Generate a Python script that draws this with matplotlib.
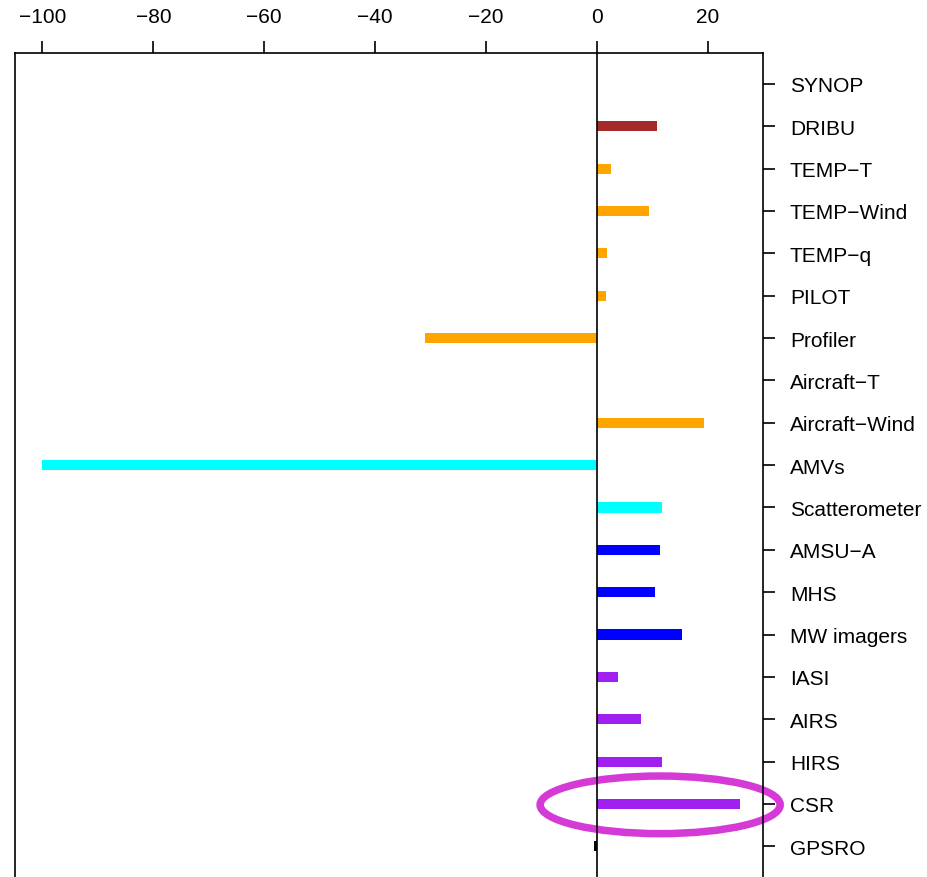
import numpy as np
import matplotlib
matplotlib.use("Agg")
import matplotlib.pyplot as plt
from matplotlib.patches import Ellipse

plt.rcParams["font.family"] = ["Liberation Sans", "DejaVu Sans"]

# ========================================================================
# Data
# ========================================================================
labels = [
    "SYNOP", "DRIBU", "TEMP\u2212T", "TEMP\u2212Wind", "TEMP\u2212q", "PILOT",
    "Profiler", "Aircraft\u2212T", "Aircraft\u2212Wind", "AMVs", "Scatterometer",
    "AMSU\u2212A", "MHS", "MW imagers", "IASI", "AIRS", "HIRS", "CSR", "GPSRO",
]
values = [
    0.0, 10.8, 2.5, 9.3, 1.9, 1.7,
    -31.0, 0.0, 19.3, -100.0, 11.7,
    11.4, 10.5, 15.3, 3.8, 7.9, 11.8, 25.8, -0.5,
]
colors = [
    "#A52A2A", "#A52A2A", "#FFA500", "#FFA500", "#FFA500", "#FFA500",
    "#FFA500", "#FFA500", "#FFA500", "#00FFFF", "#00FFFF",
    "#0000FF", "#0000FF", "#0000FF", "#A020F0", "#A020F0", "#A020F0", "#A020F0", "#000000",
]
xticks = [-100, -80, -60, -40, -20, 0, 20]
highlight = "CSR"

# ========================================================================
# Plot
# ========================================================================
fig = plt.figure(figsize=(9.27, 8.78), dpi=100)
ax = fig.add_axes([0.0159, 0.0, 0.8075, 0.9382])

ypos = np.arange(len(labels))
ax.barh(ypos, values, height=0.24, color=colors, linewidth=0)
ax.axvline(0, color="black", lw=1.2)

# ellipse around the highlighted bar
k = labels.index(highlight)
ax.add_patch(
    Ellipse((11.4, ypos[k] + 0.02), 43.3, 1.36, fill=False, ec="#D63AD6", lw=5.4, clip_on=False)
)

ax.set_xlim(-105, 30)
ax.set_ylim(len(labels) - 1 + 0.724, -0.724)

ax.xaxis.tick_top()
ax.set_xticks(xticks)
ax.set_xticklabels(["\u2212%d" % -t if t < 0 else "%d" % t for t in xticks])
ax.yaxis.tick_right()
ax.set_yticks(ypos)
ax.set_yticklabels(labels)
ax.tick_params(axis="both", labelsize=15, length=8.6, width=1.2, direction="out")
ax.tick_params(axis="x", pad=11)
ax.tick_params(axis="y", pad=10.5)

for s in ["top", "left", "right"]:
    ax.spines[s].set_linewidth(1.2)
ax.spines["bottom"].set_visible(False)

fig.savefig("out.png", dpi=100)
